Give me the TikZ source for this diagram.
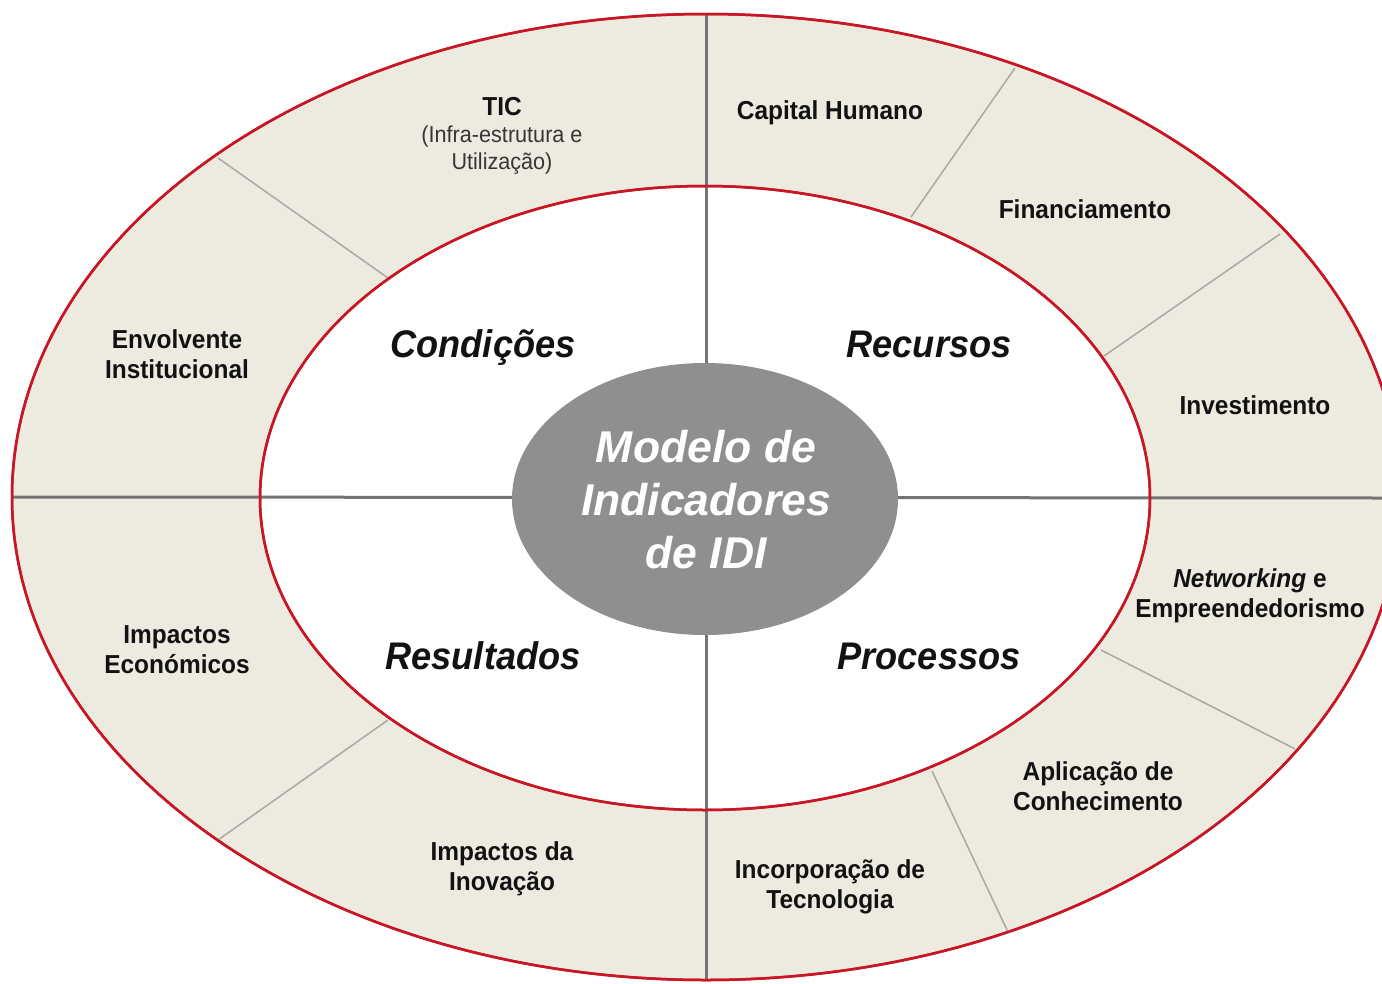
\documentclass[tikz,border=0pt]{standalone}
\usepackage{fontspec}
\setmainfont{Liberation Sans}
\newfontfamily\labfont[FakeStretch=0.94]{Liberation Sans}
\usetikzlibrary{shapes.geometric}
\definecolor{ringred}{RGB}{200,22,36}
\definecolor{ringfill}{RGB}{237,234,224}
\definecolor{hubgray}{RGB}{143,143,143}
\definecolor{axisgray}{RGB}{115,115,115}
\definecolor{divgray}{RGB}{168,168,168}
\definecolor{ink}{RGB}{18,18,18}
\begin{document}
\begin{tikzpicture}[x=1pt,y=-1pt,
  ring/.style={ellipse, draw=ringred, line width=2.5pt, inner sep=0pt, outer sep=0pt},
  axis/.style={draw=axisgray, line width=3pt},
  divider/.style={draw=divgray, line width=1.5pt},
  lab/.style={font=\labfont\bfseries\fontsize{26}{30}\selectfont, text=ink, align=center, inner sep=0pt},
  small/.style={font=\labfont\fontsize{23}{27}\selectfont, text=ink!85, align=center, inner sep=0pt},
  quad/.style={font=\labfont\bfseries\itshape\fontsize{38.5}{42}\selectfont, text=ink, inner sep=0pt, anchor=base},
  hubtext/.style={font=\bfseries\itshape\fontsize{44.5}{53}\selectfont, text=white, align=center, inner sep=0pt}
]
\useasboundingbox (0,0) rectangle (1382,983);
\clip (0,0) rectangle (1382,983);
\fill[white] (0,0) rectangle (1382,983);

% rings
\node[ring, fill=ringfill, minimum width=1388pt, minimum height=966pt] (outer) at (706,497) {};
\node[ring, fill=white, minimum width=890pt, minimum height=624pt] (inner) at (705,498) {};

% dividers in ring
\coordinate (d1a) at (218,158);  \coordinate (d1b) at (388,278);
\coordinate (d2a) at (1015,68);  \coordinate (d2b) at (911,217);
\coordinate (d3a) at (1280,234); \coordinate (d3b) at (1104,356);
\coordinate (d4a) at (1295,749); \coordinate (d4b) at (1101,650);
\coordinate (d5a) at (1008,932); \coordinate (d5b) at (932,771);
\coordinate (d6a) at (218,840);  \coordinate (d6b) at (388,720);
\foreach \i in {1,...,6} \draw[divider] (d\i a) -- (d\i b);

% axes
\coordinate (rightedge) at (1382,498);
\draw[axis] (outer.west) -- (rightedge);
\draw[axis] (outer.north) -- (outer.south);

% redraw red borders on top
\draw[ringred, line width=2.5pt] (inner.center) ellipse [x radius=445pt, y radius=312pt];
\draw[ringred, line width=2.5pt] (outer.center) ellipse [x radius=694pt, y radius=483pt];

% hub
\node[ellipse, fill=hubgray, inner sep=0pt, minimum width=386pt, minimum height=272pt] (hub) at (705,499) {};
\node[hubtext] (hubt) at (706,500) {Modelo de\\Indicadores\\de IDI};

% quadrant labels (baseline placement)
\node[quad] (cond) at (483,357) {Condições};
\node[quad] (recu) at (929,357) {Recursos};
\node[quad] (resu) at (483,669) {Resultados};
\node[quad] (proc) at (929,669) {Processos};

% ring labels
\node[lab] (tic) at (502,107) {TIC};
\node[small] (ticsub) at (502,150) {(Infra-estrutura e\\Utilização)};
\node[lab] (caph) at (830,113) {Capital Humano};
\node[lab] (fin) at (1085,209) {Financiamento};
\node[lab] (inv) at (1255,405) {Investimento};
\node[lab] (net) at (1250,596) {\itshape Networking\upshape{} e\\Empreendedorismo};
\node[lab] (apl) at (1098,786) {Aplicação de\\Conhecimento};
\node[lab] (inc) at (830,887) {Incorporação de\\Tecnologia};
\node[lab] (imi) at (502,869) {Impactos da\\Inovação};
\node[lab] (ime) at (177,650) {Impactos\\Económicos};
\node[lab] (env) at (177,354) {Envolvente\\Institucional};
\end{tikzpicture}
\end{document}
